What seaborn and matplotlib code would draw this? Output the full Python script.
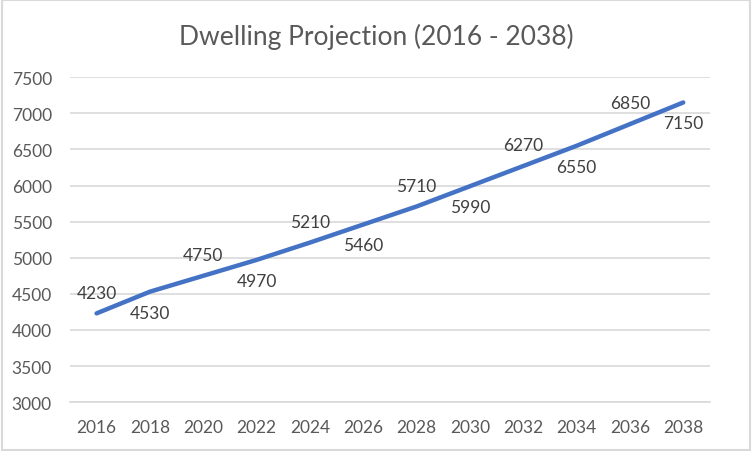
from matplotlib import pyplot as plt
from matplotlib.patches import Rectangle
import pandas as pd
import seaborn as sns

# Dwelling projection values
years = [2016, 2018, 2020, 2022, 2024, 2026, 2028, 2030, 2032, 2034, 2036, 2038]
dwellings = [4230, 4530, 4750, 4970, 5210, 5460, 5710, 5990, 6270, 6550, 6850, 7150]
y_ticks = [3000, 3500, 4000, 4500, 5000, 5500, 6000, 6500, 7000, 7500]

df = pd.DataFrame({"Year": years, "Dwellings": dwellings})

sns.set_style("white")
plt.rcParams["font.family"] = ["Lato", "DejaVu Sans"]

text_color = "#595959"
grid_color = "#d9d9d9"

fig = plt.figure(figsize=(7.52, 4.52), dpi=100)
ax = fig.add_axes([0.093, 0.108, 0.851, 0.719])

sns.lineplot(data=df, x="Year", y="Dwellings", color="#4472c4", linewidth=3.2, ax=ax)

# data labels alternate above / below the line
for i, (yr, val) in enumerate(zip(years, dwellings)):
    dy = 15 if i % 2 == 0 else -15
    ax.annotate(str(val), (yr, val), xytext=(0, dy), textcoords="offset points",
                ha="center", va="center", fontsize=12.5, color="#404040")

ax.set_xlim(2015, 2039)
ax.set_ylim(3000, 7500)
ax.set_xticks(years)
ax.set_yticks(y_ticks)
ax.yaxis.grid(True, color=grid_color, linewidth=1.2)
ax.set_axisbelow(True)
for side in ["top", "right", "left"]:
    ax.spines[side].set_visible(False)
ax.spines["bottom"].set_color(grid_color)
ax.spines["bottom"].set_linewidth(1.2)
ax.tick_params(axis="both", length=0, labelsize=12.5, colors=text_color)
ax.tick_params(axis="y", pad=13)
ax.tick_params(axis="x", pad=12)
ax.set_xlabel("")
ax.set_ylabel("")

fig.text(0.5, 0.918, "Dwelling Projection (2016 - 2038)", ha="center", va="center",
         fontsize=19, color=text_color)

# light chart-area border
fig.patches.append(Rectangle((0.002, 0.003), 0.995, 0.994, transform=fig.transFigure,
                             fill=False, edgecolor=grid_color, linewidth=1.5))

fig.savefig("out.png", dpi=100)
